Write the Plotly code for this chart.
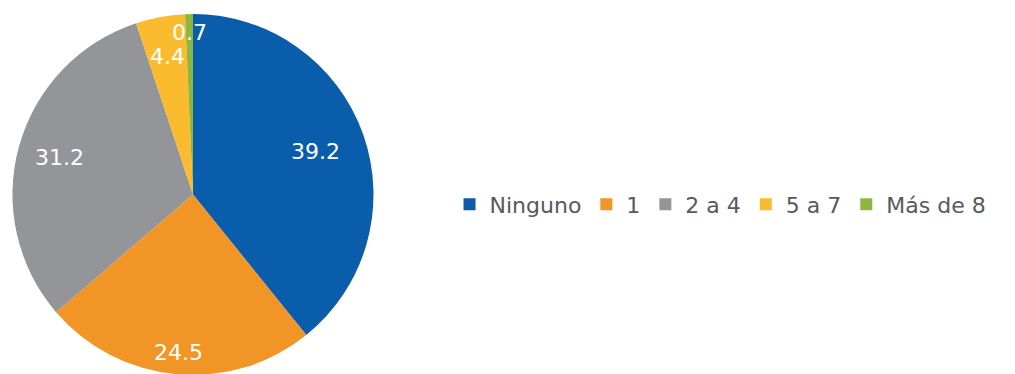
import math
import plotly.graph_objects as go

categories = ["Ninguno", "1", "2 a 4", "5 a 7", "Más de 8"]
values = [39.2, 24.5, 31.2, 4.4, 0.7]
colors = ["#0a5dab", "#f29527", "#939598", "#fbbb2e", "#8cb640"]
# radial position of each value label, as a fraction of the pie radius
label_radius = [0.72, 0.88, 0.77, 0.78, 0.90]

W, H = 1015, 374
dom_x = [0.0005, 0.364]
dom_y = [0.0187, 0.984]

fig = go.Figure(go.Pie(
    labels=categories,
    values=values,
    sort=False,
    direction="clockwise",
    rotation=0,
    marker=dict(colors=colors, line=dict(width=0)),
    textinfo="none",
    domain=dict(x=dom_x, y=dom_y),
    hoverinfo="label+value",
))

# value labels placed along each slice's mid-angle
cx_px = (dom_x[0] + dom_x[1]) / 2 * W
cy_px = (dom_y[0] + dom_y[1]) / 2 * H
r_px = min((dom_x[1] - dom_x[0]) * W, (dom_y[1] - dom_y[0]) * H) / 2
total = sum(values)
cum = 0.0
for v, f in zip(values, label_radius):
    mid = (cum + v / 2) / total * 2 * math.pi
    cum += v
    x_px = cx_px + f * r_px * math.sin(mid)
    y_px = cy_px + f * r_px * math.cos(mid)
    fig.add_annotation(
        x=x_px / W, y=y_px / H, xref="paper", yref="paper",
        xanchor="center", yanchor="middle",
        text=f"{v:.1f}", showarrow=False,
        font=dict(family="DejaVu Sans", size=22, color="white"),
    )

fig.update_layout(
    width=W, height=H,
    margin=dict(l=0, r=0, t=0, b=0),
    paper_bgcolor="white",
    plot_bgcolor="white",
    showlegend=True,
    legend=dict(
        orientation="h",
        x=0.435, xanchor="left",
        y=0.475, yanchor="middle",
        font=dict(family="DejaVu Sans", size=22, color="#58595b"),
        traceorder="normal",
    ),
)

fig.write_html("out.html")
